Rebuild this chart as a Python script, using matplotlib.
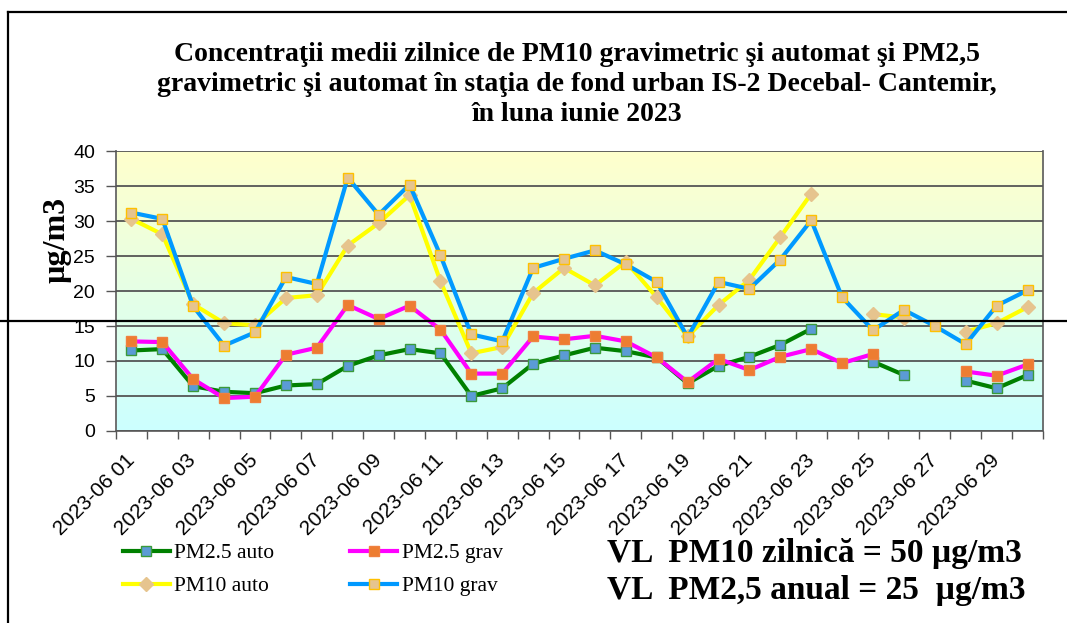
import numpy as np
import matplotlib.pyplot as plt
from matplotlib.colors import LinearSegmentedColormap
from matplotlib.lines import Line2D

nan = np.nan

# June 2023, one value per day
days = ["2023-06 %02d" % d for d in range(1, 31)]

pm25_auto = [11.5, 11.7, 6.4, 5.6, 5.4, 6.5, 6.7, 9.3, 10.8, 11.7,
             11.1, 5.0, 6.1, 9.6, 10.8, 11.9, 11.4, 10.5, 6.8, 9.3,
             10.6, 12.3, 14.6, nan, 9.9, 8.0, nan, 7.2, 6.1, 8.0]
pm25_grav = [12.8, 12.7, 7.4, 4.7, 4.9, 10.9, 11.9, 18.0, 16.0, 17.9,
             14.5, 8.2, 8.2, 13.5, 13.1, 13.6, 12.8, 10.5, 7.0, 10.3,
             8.7, 10.6, 11.7, 9.7, 11.0, nan, nan, 8.5, 7.9, 9.5]
pm10_auto = [30.3, 28.1, 18.1, 15.4, 15.1, 19.0, 19.4, 26.5, 29.7, 33.7,
             21.4, 11.1, 12.0, 19.7, 23.3, 20.8, 24.2, 19.1, 13.5, 18.0,
             21.6, 27.7, 33.9, nan, 16.7, 16.2, nan, 14.2, 15.4, 17.7]
pm10_grav = [31.2, 30.3, 17.8, 12.2, 14.1, 22.0, 21.0, 36.2, 30.9, 35.2,
             25.1, 13.8, 12.8, 23.3, 24.6, 25.8, 23.8, 21.3, 13.4, 21.3,
             20.3, 24.5, 30.1, 19.1, 14.4, 17.3, 15.0, 12.4, 17.9, 20.1]

title = ("Concentraţii medii zilnice de PM10 gravimetric şi automat şi PM2,5\n"
         "gravimetric şi automat în staţia de fond urban IS-2 Decebal- Cantemir,\n"
         "în luna iunie 2023")

fig = plt.figure(figsize=(10.67, 6.23), dpi=100)
ax = fig.add_axes([0.1087, 0.3082, 0.8688, 0.4494])

x = np.arange(len(days))

# background gradient, yellow at top to cyan at bottom
grad = LinearSegmentedColormap.from_list("bg", ["#CCFFFF", "#FFFFCC"])
ax.imshow(np.linspace(0, 1, 256).reshape(-1, 1), cmap=grad, origin="lower",
          aspect="auto", extent=[-0.5, 29.5, 0, 40], zorder=0)

l1, = ax.plot(x, pm25_auto, color="#008000", lw=3, marker="s", ms=6.5,
              mfc="#5B9BD5", mec="#3A9A3A", mew=1, label="PM2.5 auto", zorder=3)
l2, = ax.plot(x, pm25_grav, color="#FF00FF", lw=3, marker="s", ms=6.5,
              mfc="#ED7D31", mec="#F08040", mew=1, label="PM2.5 grav", zorder=4)
l3, = ax.plot(x, pm10_auto, color="#FFFF00", lw=3, marker="D", ms=7,
              mfc="#E6C48E", mec="#E6C48E", mew=1, label="PM10 auto", zorder=5)
l4, = ax.plot(x, pm10_grav, color="#0099FF", lw=3, marker="s", ms=6.5,
              mfc="#E6C48E", mec="#FFC000", mew=1, label="PM10 grav", zorder=6)

ax.set_xlim(-0.5, 29.5)
ax.set_ylim(0, 40)
ax.set_yticks(np.arange(0, 41, 5))
ax.yaxis.grid(True, color="#555555", lw=1.3, zorder=1)
ax.set_axisbelow(False)
ax.tick_params(axis="y", labelsize=14, length=7, width=1, color="#555555", pad=8)
for t in ax.get_yticklabels():
    t.set_fontfamily("Liberation Sans")

ax.set_xticks(x[::2])
ax.set_xticklabels(days[::2], rotation=45, ha="right", va="center",
                   rotation_mode="anchor", fontsize=15, family="Liberation Sans")
ax.set_xticks(np.arange(-0.5, 30, 1), minor=True)
ax.tick_params(axis="x", which="major", length=0, pad=19)
ax.tick_params(axis="x", which="minor", length=6, width=1, color="#555555")

for s in ["left", "bottom", "right"]:
    ax.spines[s].set_color("#666666")
    ax.spines[s].set_linewidth(1.3)
ax.spines["top"].set_visible(False)

fig.text(0.541, 0.864, title, ha="center", va="center", fontsize=20,
         fontweight="bold", family="Liberation Serif", linespacing=1.26)
fig.text(0.053, 0.615, "µg/m3", rotation=90, ha="center", va="center",
         fontsize=23, fontweight="bold", family="Liberation Serif")

fig.text(0.569, 0.082, "VL  PM10 zilnică = 50 µg/m3\nVL  PM2,5 anual = 25  µg/m3",
         ha="left", va="center", fontsize=24, fontweight="bold",
         family="Liberation Serif", linespacing=1.22)

fig.legend(handles=[l1, l3, l2, l4], loc="upper left", bbox_to_anchor=(0.105, 0.145),
           ncol=2, frameon=False, prop={"family": "Liberation Serif", "size": 15.5},
           handlelength=2.2, handletextpad=0.2, columnspacing=3.5,
           labelspacing=0.6, borderpad=0)

# frame lines around the picture
fig.add_artist(Line2D([8 / 1067, 8 / 1067], [0, 1 - 12 / 623], color="black", lw=1.6))
fig.add_artist(Line2D([8 / 1067, 1], [1 - 12 / 623, 1 - 12 / 623], color="black", lw=1.6))
fig.add_artist(Line2D([0, 1], [1 - 321 / 623, 1 - 321 / 623], color="black", lw=1.6, zorder=10))

fig.savefig("out.png", dpi=100)
